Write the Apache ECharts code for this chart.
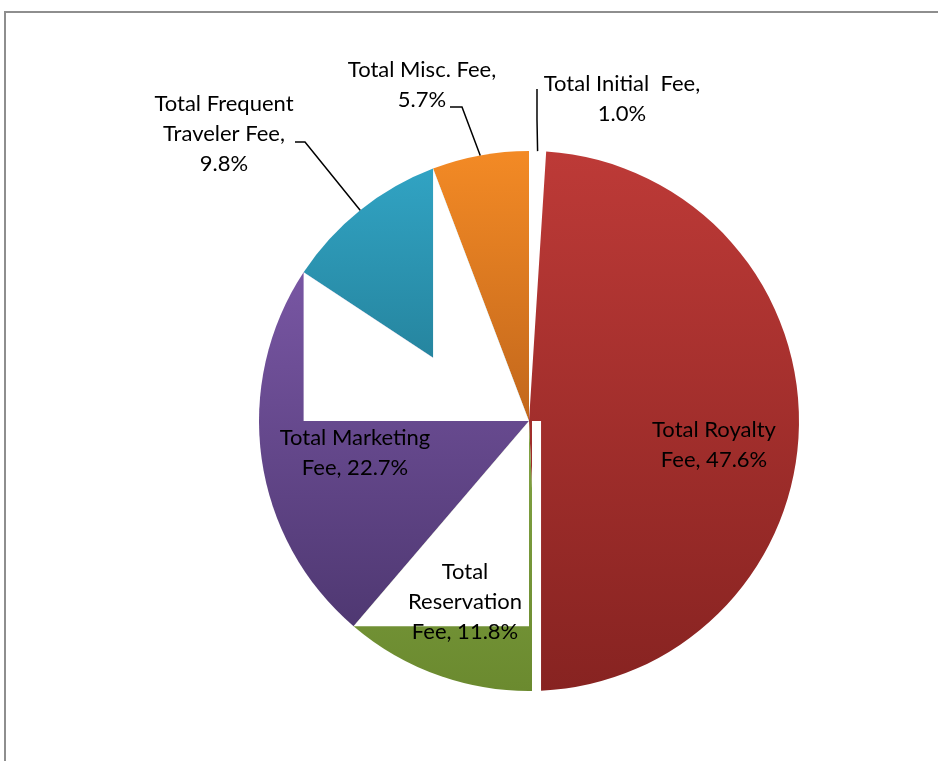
<!DOCTYPE html>
<html>
<head>
<meta charset="utf-8">
<script src="https://cdn.jsdelivr.net/npm/echarts@6/dist/echarts.min.js"></script>
<style>
html,body{margin:0;padding:0;background:#fff;overflow:hidden;}
#frame{position:absolute;left:4px;top:11px;width:1000px;height:800px;border-left:2px solid #8e8e8e;border-top:2px solid #8e8e8e;}
#main{position:absolute;left:0;top:0;width:938px;height:761px;}
</style>
</head>
<body>
<div id="frame"></div>
<div id="main"></div>
<script>
// slices, clockwise from 12 o'clock
var categories = ['Total Initial  Fee', 'Total Royalty\nFee', 'Total\nReservation\nFee', 'Total Marketing\nFee', 'Total Frequent\nTraveler Fee', 'Total Misc. Fee'];
var values = [1.0, 47.6, 11.8, 22.7, 9.8, 5.7];
var pctOnNewLine = [true, false, false, false, true, true];

// top / bottom gradient colour of each slice
var colors = [
    ['#ffffff', '#ffffff'],
    ['#bd3a37', '#872321'],
    ['#82a444', '#6b8a2f'],
    ['#7856a3', '#4f3872'],
    ['#31a3c3', '#227b93'],
    ['#f38a25', '#c2671c']
];

// where each label sits (and its leader line bend for outside ones)
var labelSpots = [
    {x: 622, y: 99, bend: [537, 120], end: [537, 89]},
    {x: 714, y: 445},
    {x: 465, y: 602},
    {x: 355, y: 453},
    {x: 224, y: 134, bend: [305, 142], end: [295, 142]},
    {x: 422, y: 85, bend: [462, 107], end: [450, 107]}
];

var chart = echarts.init(document.getElementById('main'));

var pieData = values.map(function (v, i) {
    return {
        name: categories[i],
        value: v,
        itemStyle: {
            color: new echarts.graphic.LinearGradient(0, 0, 0, 1, [
                {offset: 0, color: colors[i][0]},
                {offset: 1, color: colors[i][1]}
            ])
        }
    };
});

var labelData = values.map(function (v, i) {
    var outside = !!labelSpots[i].bend;
    return {
        name: categories[i],
        value: v,
        label: {position: outside ? 'outside' : 'inside'},
        labelLine: {show: outside}
    };
});

var option = {
    animation: false,
    series: [
        {
            type: 'pie',
            z: 1,
            silent: true,
            center: [529, 421],
            radius: 270,
            startAngle: 90,
            clockwise: true,
            label: {show: false},
            labelLine: {show: false},
            itemStyle: {borderWidth: 0},
            data: pieData
        },
        {
            type: 'pie',
            z: 3,
            silent: true,
            center: [529, 421],
            radius: 270,
            startAngle: 90,
            clockwise: true,
            avoidLabelOverlap: false,
            itemStyle: {color: 'rgba(0,0,0,0)', borderWidth: 0},
            label: {
                show: true,
                color: '#000',
                fontFamily: 'Lato',
                fontSize: 22,
                lineHeight: 30,
                align: 'center',
                formatter: function (p) {
                    var sep = pctOnNewLine[p.dataIndex] ? ',\n' : ', ';
                    return p.name + sep + p.value.toFixed(1) + '%';
                }
            },
            labelLine: {
                lineStyle: {color: '#000', width: 1.5}
            },
            labelLayout: function (p) {
                var s = labelSpots[p.dataIndex];
                var res = {x: s.x, y: s.y, align: 'center', verticalAlign: 'middle'};
                if (s.bend && p.labelLinePoints) {
                    res.labelLinePoints = [p.labelLinePoints[0], s.bend, s.end];
                }
                return res;
            },
            data: labelData
        }
    ]
};
chart.setOption(option);

// Excel left blank patches inside some slices; derive them from the pie layout
var d = chart.getModel().getSeriesByIndex(0).getData();
function edge(i, a) {
    var l = d.getItemLayout(i);
    return [l.cx + l.r * Math.cos(a), l.cy + l.r * Math.sin(a)];
}
var L = d.getItemLayout(1);
var C = [L.cx, L.cy];
var pRoy = edge(1, d.getItemLayout(1).endAngle);
var pRes = edge(2, d.getItemLayout(2).endAngle);
var pMkt = edge(3, d.getItemLayout(3).endAngle);
var pTrv = edge(4, d.getItemLayout(4).endAngle);
var t = (pTrv[0] - C[0]) / (pMkt[0] - C[0]);
var onLine = [pTrv[0], C[1] + t * (pMkt[1] - C[1])];

chart.setOption({
    graphic: [
        {
            type: 'polygon', z: 2, silent: true,
            shape: {points: [pMkt, onLine, pTrv, C, [pMkt[0], C[1]]]},
            style: {fill: '#fff'}
        },
        {
            type: 'polygon', z: 2, silent: true,
            shape: {points: [C, pRes, [C[0], pRes[1]]]},
            style: {fill: '#fff'}
        },
        {
            type: 'rect', z: 2, silent: true,
            shape: {x: C[0] + 3, y: C[1], width: pRoy[0] - C[0] - 3, height: pRoy[1] - C[1] + 3},
            style: {fill: '#fff'}
        }
    ]
});
</script>
</body>
</html>
